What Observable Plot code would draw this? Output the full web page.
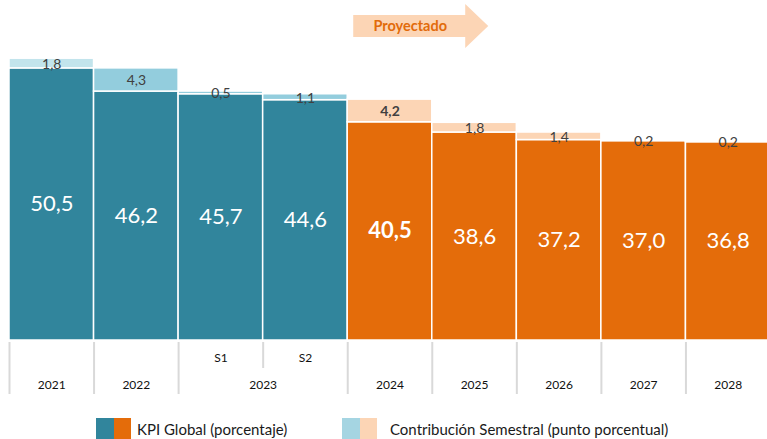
<!DOCTYPE html>
<html>
<head>
<meta charset="utf-8">
<script src="https://cdn.jsdelivr.net/npm/d3@7"></script>
<script src="https://cdn.jsdelivr.net/npm/@observablehq/plot@0.6"></script>
<style>
  html, body { margin: 0; padding: 0; background: #fff; }
  body { font-family: Lato, "Open Sans", sans-serif; width: 767px; height: 439px; overflow: hidden; }
  #legend { display: flex; align-items: center; height: 21px; margin-top: 18px; padding-left: 96px; font-size: 15px; color: #1a1a1a; }
  .item { display: flex; align-items: center; }
  .sw { width: 17.5px; height: 21px; display: inline-block; }
</style>
</head>
<body>
<div id="chart"></div>
<div id="legend"></div>
<script>
// ---- data ----
const years     = ["2021", "2022", "2023", "2023", "2024", "2025", "2026", "2027", "2028"];
const semesters = ["", "", "S1", "S2", "", "", "", "", ""];
const kpiGlobal = [50.5, 46.2, 45.7, 44.6, 40.5, 38.6, 37.2, 37.0, 36.8];
const contribSemestral = [1.8, 4.3, 0.5, 1.1, 4.2, 1.8, 1.4, 0.2, 0.2];
const projected = [false, false, false, false, true, true, true, true, true];
const highlightYear = "2024";
const arrowLabel = "Proyectado";
const legendLabels = ["KPI Global (porcentaje)", "Contribución Semestral (punto porcentual)"];

// ---- styles ----
const TEAL = "#31859C", ORANGE = "#E46C0A";
const LIGHTBLUE = "#93CDDD", LIGHTBLUE0 = "#C2E4EC", PEACH = "#FCD5B5";
const fmt = v => d3.format(".1f")(v).replace(".", ",");

const data = kpiGlobal.map((v, i) => ({
  i, year: years[i], sem: semesters[i], kpi: v, contrib: contribSemestral[i], proj: projected[i]
}));

// year groups (centres) for the bottom label row
const groups = d3.groups(data, d => d.year).map(([year, rows]) => ({
  year, center: (d3.min(rows, r => r.i) + d3.max(rows, r => r.i) + 1) / 2
}));
// separators between categories: full when year changes, short within a year
const bounds = d3.range(0, data.length).map(b => ({
  x: b, full: b === 0 || data[b - 1].year !== data[b].year
}));

const H = 400, MB = 60, yMax = 63.1;
const k = (H - MB) / yMax; // px per unit

const chart = Plot.plot({
  width: 767, height: H,
  marginLeft: 9, marginRight: 0, marginTop: 0, marginBottom: MB,
  x: { domain: [0, data.length], range: [9, 770], axis: null },
  y: { domain: [0, yMax], axis: null },
  style: { fontFamily: "Lato, 'Open Sans', sans-serif", background: "white", overflow: "hidden" },
  marks: [
    Plot.rect(data, {
      x1: "i", x2: d => d.i + 1, y1: 0, y2: "kpi",
      fill: d => d.proj ? ORANGE : TEAL, stroke: "white", strokeWidth: 1.5
    }),
    Plot.rect(data, {
      x1: "i", x2: d => d.i + 1, y1: "kpi", y2: d => d.kpi + d.contrib,
      fill: d => d.proj ? PEACH : (d.i === 0 ? LIGHTBLUE0 : LIGHTBLUE), stroke: "white", strokeWidth: 1.5
    }),
    // KPI value labels
    Plot.text(data, {
      filter: d => d.year !== highlightYear,
      x: d => d.i + 0.5, y: d => d.kpi / 2, text: d => fmt(d.kpi),
      fill: "white", fontSize: 22
    }),
    Plot.text(data, {
      filter: d => d.year === highlightYear,
      x: d => d.i + 0.5, y: d => d.kpi / 2, text: d => fmt(d.kpi),
      fill: "white", fontSize: 22, fontWeight: "bold"
    }),
    // contribution labels
    Plot.text(data, {
      filter: d => d.year !== highlightYear,
      x: d => d.i + 0.5, y: d => d.kpi + d.contrib / 2, dy: 1, text: d => fmt(d.contrib),
      fill: "#404040", fontSize: 14
    }),
    Plot.text(data, {
      filter: d => d.year === highlightYear,
      x: d => d.i + 0.5, y: d => d.kpi + d.contrib / 2, dy: 1, text: d => fmt(d.contrib),
      fill: "#404040", fontSize: 14, fontWeight: "bold"
    }),
    // category separators below the bars
    Plot.ruleX(bounds, {
      x: "x", y1: -2 / k, y2: d => -(d.full ? 54 : 28) / k,
      stroke: "#D9D9D9", strokeWidth: 2
    }),
    // semester labels
    Plot.text(data, {
      filter: d => d.sem, x: d => d.i + 0.5, y: 0, dy: 18, text: "sem",
      fill: "#111", fontSize: 12
    }),
    // year labels
    Plot.text(groups, {
      x: "center", y: 0, dy: 45, text: "year", fill: "#111", fontSize: 12
    }),
    // "Proyectado" arrow anchored to the first projected category
    (index, scales) => {
      const first = data.find(d => d.proj).i;
      const x0 = scales.x(first);
      const g = d3.create("svg:g");
      const cy = 26;
      g.append("path")
        .attr("d", `M${x0 + 6},${cy - 11}H${x0 + 118}V${cy - 22}L${x0 + 141},${cy}L${x0 + 118},${cy + 22}V${cy + 11}H${x0 + 6}Z`)
        .attr("fill", PEACH);
      g.append("text")
        .attr("x", x0 + 63).attr("y", cy).attr("dy", "0.35em")
        .attr("text-anchor", "middle")
        .attr("font-weight", "bold").attr("font-size", 14.5)
        .attr("fill", "#E26B0A")
        .text(arrowLabel);
      return g.node();
    }
  ]
});
document.getElementById("chart").appendChild(chart);

// ---- legend ----
const legend = d3.select("#legend");
const items = [
  { label: legendLabels[0], colors: [TEAL, ORANGE], width: 246, gap: 6 },
  { label: legendLabels[1], colors: ["#A5D5E2", PEACH], width: null, gap: 13 }
];
items.forEach(it => {
  const el = legend.append("div").attr("class", "item");
  if (it.width) el.style("width", it.width + "px");
  it.colors.forEach(c => el.append("span").attr("class", "sw").style("background", c));
  el.append("span").style("margin-left", it.gap + "px").text(it.label);
});
</script>
</body>
</html>
